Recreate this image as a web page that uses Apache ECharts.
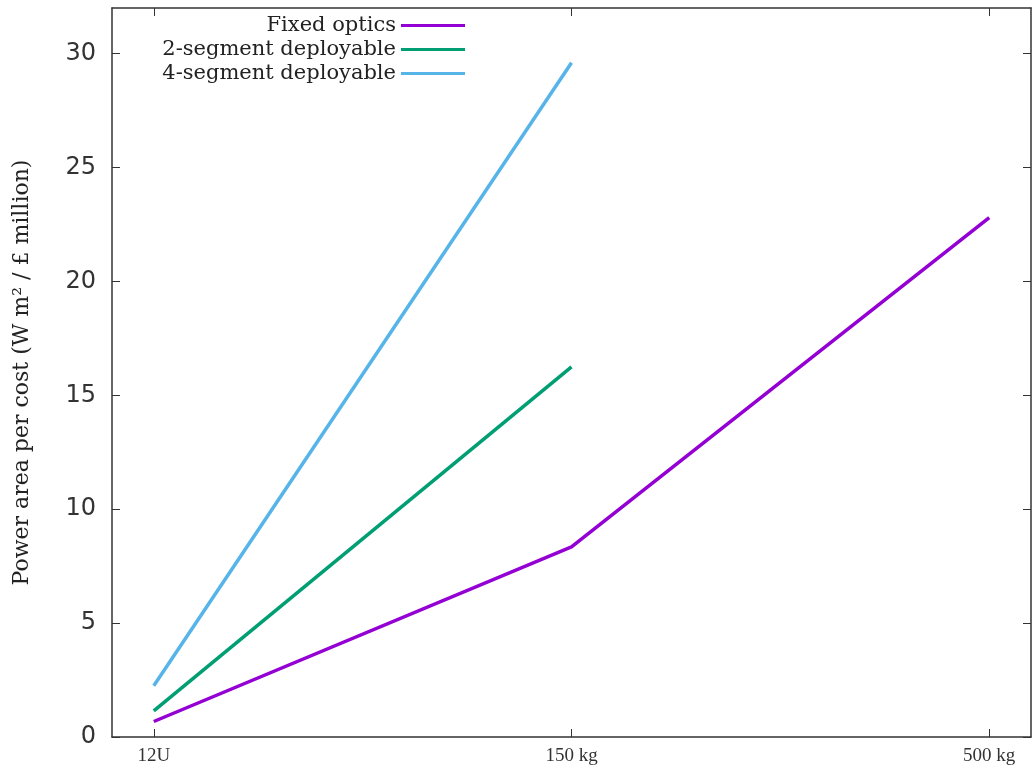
<!DOCTYPE html>
<html>
<head>
<meta charset="utf-8">
<script src="https://cdn.jsdelivr.net/npm/echarts@6/dist/echarts.min.js"></script>
<style>html,body{margin:0;padding:0;background:#fff;}#c{width:1033px;height:777px;}</style>
</head>
<body>
<div id="c"></div>
<script>
const categories = ['12U', '150 kg', '500 kg'];
const fixedOptics = [0.68, 8.35, 22.8];
const seg2 = [1.15, 16.25];
const seg4 = [2.25, 29.6];
const yTicks = [0, 5, 10, 15, 20, 25, 30];
const seriesNames = ['Fixed optics', '2-segment deployable', '4-segment deployable'];
const seriesColors = ['#9400d3', '#009e73', '#56b4e9'];

const toPts = arr => arr.map((v, i) => [i, v]);
const catIdx = categories.map((c, i) => i);
const frame = () => ({ show: true, onZero: false, lineStyle: { color: '#333', width: 1.5 } });

const chart = echarts.init(document.getElementById('c'));
const legends = seriesNames.map((n, i) => ({
  data: [n],
  orient: 'vertical',
  align: 'right',
  right: 563,
  top: 10 + i * 24,
  itemWidth: 64,
  itemHeight: 3,
  itemGap: 0,
  icon: 'rect',
  textStyle: { fontFamily: 'DejaVu Serif', fontSize: 21, color: '#222' }
}));

chart.setOption({
  animation: false,
  legend: legends,
  grid: { left: 112, right: 2, top: 8, bottom: 40 },
  xAxis: [{
    type: 'value', min: -0.1, max: 2.1,
    axisLine: frame(),
    axisTick: { show: true, inside: true, length: 8, customValues: catIdx, lineStyle: { color: '#333' } },
    axisLabel: { customValues: catIdx, formatter: v => categories[Math.round(v)], fontFamily: 'Liberation Serif', fontSize: 19, color: '#333', margin: 10 },
    splitLine: { show: false }
  }, {
    type: 'value', min: -0.1, max: 2.1, position: 'top',
    axisLine: frame(),
    axisTick: { show: true, inside: true, length: 8, customValues: catIdx, lineStyle: { color: '#333' } },
    axisLabel: { show: false }, splitLine: { show: false }
  }],
  yAxis: [{
    type: 'value', min: 0, max: 32,
    name: 'Power area per cost (W m² / £ million)',
    nameLocation: 'middle', nameGap: 79,
    nameTextStyle: { fontFamily: 'DejaVu Serif', fontSize: 22, color: '#222' },
    axisLine: frame(),
    axisTick: { show: true, inside: true, length: 8, customValues: yTicks, lineStyle: { color: '#333' } },
    axisLabel: { customValues: yTicks, fontFamily: 'DejaVu Sans', fontSize: 24, color: '#333', margin: 16 },
    splitLine: { show: false }
  }, {
    type: 'value', min: 0, max: 32, position: 'right',
    axisLine: frame(),
    axisTick: { show: true, inside: true, length: 8, customValues: yTicks, lineStyle: { color: '#333' } },
    axisLabel: { show: false }, splitLine: { show: false }
  }],
  series: [fixedOptics, seg2, seg4].map((d, i) => ({
    name: seriesNames[i], type: 'line', data: toPts(d),
    showSymbol: false, symbol: 'none',
    lineStyle: { color: seriesColors[i], width: 3.5 },
    itemStyle: { color: seriesColors[i] }
  }))
});
</script>
</body>
</html>
